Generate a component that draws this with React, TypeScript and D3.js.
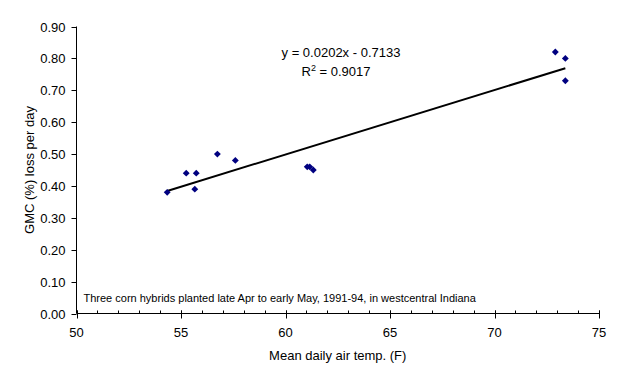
import React from "react";
import * as d3 from "d3";

const tempF = [54.34, 55.25, 55.73, 55.66, 56.74, 57.6, 61.04, 61.16, 61.33, 72.91, 73.39, 73.39];
const gmcLoss = [0.38, 0.44, 0.44, 0.39, 0.5, 0.48, 0.46, 0.46, 0.45, 0.82, 0.8, 0.73];
const xTicks = [50, 55, 60, 65, 70, 75];
const xMinorTicks = d3.range(50, 76, 1);
const yTicks = [0, 0.1, 0.2, 0.3, 0.4, 0.5, 0.6, 0.7, 0.8, 0.9];
const slope = 0.0202;
const intercept = -0.7133;
const equationText = "y = 0.0202x - 0.7133";
const r2Value = "0.9017";
const noteText = "Three corn hybrids planted late Apr to early May, 1991-94, in westcentral Indiana";
const xTitle = "Mean daily air temp. (F)";
const yTitle = "GMC (%) loss per day";

export default function App() {
  const W = 623, H = 383;
  const x = d3.scaleLinear().domain([50, 75]).range([76.5, 599]);
  const y = d3.scaleLinear().domain([0, 0.9]).range([313.5, 26.5]);
  const font = "Arial, 'Liberation Sans', sans-serif";
  const xMin = d3.min(tempF)!;
  const xMax = d3.max(tempF)!;
  const diamond = d3.symbol().type(d3.symbolDiamond2).size(30)();
  const axisX = x(50);
  const axisY = y(0);
  const line = d3.line<number>().x((d) => x(d)).y((d) => y(slope * d + intercept));
  return (
    <svg width={W} height={H} style={{ position: "absolute", left: 0, top: 0, background: "#fff" }} fontFamily={font}>
      {/* y axis */}
      <line x1={axisX} x2={axisX} y1={y(0.9)} y2={axisY} stroke="#000" />
      {yTicks.map((t) => (
        <g key={"y" + t}>
          <line x1={axisX - 5} x2={axisX} y1={Math.round(y(t)) + 0.5} y2={Math.round(y(t)) + 0.5} stroke="#000" />
          <text x={axisX - 11} y={Math.round(y(t)) + 5} fontSize={13} textAnchor="end" fill="#000">
            {t.toFixed(2)}
          </text>
        </g>
      ))}
      {/* x axis */}
      <line x1={axisX} x2={x(75)} y1={axisY} y2={axisY} stroke="#000" />
      {xMinorTicks.map((t) => (
        <line key={"xm" + t} x1={Math.round(x(t)) + 0.5} x2={Math.round(x(t)) + 0.5} y1={axisY - 3} y2={axisY} stroke="#000" />
      ))}
      {xTicks.map((t) => (
        <g key={"x" + t}>
          <line x1={Math.round(x(t)) + 0.5} x2={Math.round(x(t)) + 0.5} y1={axisY - 3} y2={axisY + 5} stroke="#000" />
          <text x={x(t)} y={axisY + 23} fontSize={13} textAnchor="middle" fill="#000">
            {t}
          </text>
        </g>
      ))}
      {/* titles */}
      <text x={(x(50) + x(75)) / 2} y={360} fontSize={13} textAnchor="middle" fill="#000">
        {xTitle}
      </text>
      <text
        transform={`translate(34, ${(y(0) + y(0.9)) / 2}) rotate(-90)`}
        fontSize={13}
        textAnchor="middle"
        fill="#000"
      >
        {yTitle}
      </text>
      {/* trendline */}
      <path d={line([xMin, xMax]) ?? ""} stroke="#000" strokeWidth={2} fill="none" />
      {/* points */}
      {tempF.map((t, i) => (
        <path key={"p" + i} d={diamond ?? ""} transform={`translate(${x(t)},${y(gmcLoss[i])})`} fill="#000080" />
      ))}
      {/* equation */}
      <text x={341} y={56.5} fontSize={13} textAnchor="middle" fill="#000">
        {equationText}
      </text>
      <text x={336} y={75.5} fontSize={13} textAnchor="middle" fill="#000">
        R<tspan dy={-5} fontSize={9}>2</tspan>
        <tspan dy={5}> = {r2Value}</tspan>
      </text>
      {/* note */}
      <text x={83.5} y={302} fontSize={11} fill="#000">
        {noteText}
      </text>
    </svg>
  );
}
